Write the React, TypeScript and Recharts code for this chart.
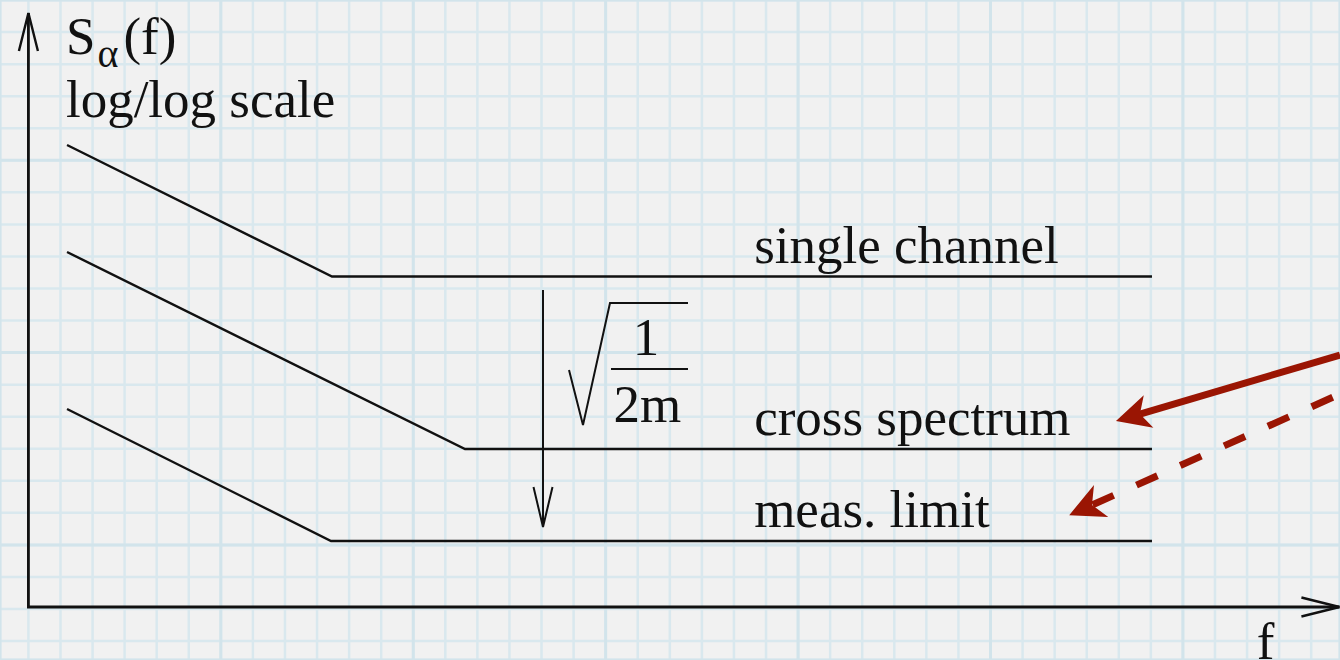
import React from 'react';
import { ComposedChart, Line, Scatter, XAxis, YAxis, CartesianGrid } from 'recharts';

// Coordinates are in "grid cells" of the squared paper: f runs right, S runs up.
const X_DOMAIN: [number, number] = [-0.886, 40.898];
const Y_DOMAIN: [number, number] = [-1.591, 19.002];

// Paper grid: fine cells every unit, heavier rule every sixth cell
const MINOR_F = [0, 1, 2, 3, 4, 5, 6, 7, 8, 9, 10, 11, 12, 13, 14, 15, 16, 17, 18, 19, 20, 21, 22, 23, 24, 25, 26, 27, 28, 29, 30, 31, 32, 33, 34, 35, 36, 37, 38, 39, 40];
const MINOR_S = [-1, 0, 1, 2, 3, 4, 5, 6, 7, 8, 9, 10, 11, 12, 13, 14, 15, 16, 17, 18, 19];
const MAJOR_F = [6, 12, 18, 24, 30, 36];
const MAJOR_S = [2, 8, 14];

// Spectra on log/log scale: 1/f-like slope then a white floor
const singleChannel = [
  { f: 1.204, S: 14.477 },
  { f: 9.467, S: 10.374 },
  { f: 35.035, S: 10.374 },
];
const crossSpectrum = [
  { f: 1.204, S: 11.139 },
  { f: 13.614, S: 4.992 },
  { f: 35.035, S: 4.992 },
];
const measLimit = [
  { f: 1.204, S: 6.24 },
  { f: 9.436, S: 2.122 },
  { f: 35.035, S: 2.122 },
];

// Axes of the sketch (arrow at both free ends)
const axes = [
  { f: 0, S: 18.596, head: 'start' },
  { f: 0, S: 0.062 },
  { f: 40.88, S: 0.062, head: 'end' },
];

// Averaging gain arrow and its sqrt(1/2m) factor
const gainArrow = [
  { f: 16.046, S: 9.953 },
  { f: 16.046, S: 2.558, head: 'end' },
];
const radical = [
  { f: 16.857, S: 7.457 },
  { f: 17.293, S: 5.741 },
  { f: 18.135, S: 9.548 },
  { f: 20.567, S: 9.548 },
];
const fractionBar = [
  { f: 18.166, S: 7.488 },
  { f: 20.567, S: 7.488 },
];

// Red pointers coming in from the right
const pointerSolid = [
  { f: 40.898, S: 7.925 },
  { f: 34.66, S: 6.084, head: 'end' },
];
const pointerDashed = [
  { f: 40.898, S: 6.708 },
  { f: 33.165, S: 3.245, head: 'end' },
];

const labels = [
  { f: 1.17, S: 17.32, text: 'S', kind: 'title' },
  { f: 1.17, S: 15.35, text: 'log/log scale', kind: 'plain' },
  { f: 22.63, S: 10.8, text: 'single channel', kind: 'plain' },
  { f: 22.63, S: 5.43, text: 'cross spectrum', kind: 'plain' },
  { f: 22.63, S: 2.56, text: 'meas. limit', kind: 'plain' },
  { f: 19.26, S: 7.93, text: '1', kind: 'center' },
  { f: 19.3, S: 5.83, text: '2m', kind: 'center' },
  { f: 38.3, S: -1.55, text: 'f', kind: 'plain' },
];

const INK = '#111111';
const RED = '#9a1503';
const FONT = '"Liberation Serif", "Times New Roman", serif';
const TEXT_SIZE = 53;

type HeadStyle = {
  kind: 'open' | 'filled';
  length: number;
  half: number;
  notch?: number;
  color: string;
  width?: number;
};

const arrowHead = (style: HeadStyle) => (props: any) => {
  const { cx, cy, index, points, payload } = props;
  const key = `head-${index}`;
  if (!payload || !payload.head || !points || cx == null || cy == null) return <g key={key} />;
  const other = payload.head === 'start' ? points[index + 1] : points[index - 1];
  if (!other) return <g key={key} />;
  const dx = cx - other.x;
  const dy = cy - other.y;
  const len = Math.hypot(dx, dy) || 1;
  const ux = dx / len;
  const uy = dy / len;
  const nx = -uy;
  const ny = ux;
  if (style.kind === 'open') {
    const bx = cx - ux * style.length;
    const by = cy - uy * style.length;
    const d = `M${bx + nx * style.half},${by + ny * style.half} L${cx},${cy} L${bx - nx * style.half},${by - ny * style.half}`;
    return (
      <path key={key} d={d} fill="none" stroke={style.color} strokeWidth={style.width ?? 2}
        strokeLinejoin="miter" strokeDasharray="none" />
    );
  }
  const notch = style.notch ?? 0;
  const tx = cx + ux * notch;
  const ty = cy + uy * notch;
  const bx = tx - ux * style.length;
  const by = ty - uy * style.length;
  const d = `M${tx},${ty} L${bx + nx * style.half},${by + ny * style.half} L${cx},${cy} L${bx - nx * style.half},${by - ny * style.half} Z`;
  return <path key={key} d={d} fill={style.color} stroke="none" />;
};

const renderLabel = (props: any) => {
  const { cx, cy, payload } = props;
  if (cx == null || cy == null) return <g />;
  if (payload.kind === 'title') {
    return (
      <text x={cx} y={cy} fontFamily={FONT} fontSize={TEXT_SIZE} fill={INK}>
        S
        <tspan dx={2} dy={13} fontSize={40}>α</tspan>
        <tspan dx={5} dy={-13} fontSize={TEXT_SIZE}>(f)</tspan>
      </text>
    );
  }
  return (
    <text x={cx} y={cy} fontFamily={FONT} fontSize={TEXT_SIZE} fill={INK}
      textAnchor={payload.kind === 'center' ? 'middle' : 'start'}>
      {payload.text}
    </text>
  );
};

const noDot = false;

export default function App() {
  return (
    <div style={{ position: 'fixed', left: 0, top: 0, width: 1340, height: 660, background: '#f1f1f1', overflow: 'hidden' }}>
      <ComposedChart width={1340} height={660} margin={{ top: 0, right: 0, bottom: 0, left: 0 }}>
        <XAxis type="number" dataKey="f" domain={X_DOMAIN} ticks={MINOR_F} allowDataOverflow hide />
        <YAxis type="number" dataKey="S" domain={Y_DOMAIN} ticks={MINOR_S} allowDataOverflow hide />
        <XAxis xAxisId="major" type="number" dataKey="f" domain={X_DOMAIN} ticks={MAJOR_F} allowDataOverflow hide />
        <YAxis yAxisId="major" type="number" dataKey="S" domain={Y_DOMAIN} ticks={MAJOR_S} allowDataOverflow hide />

        <CartesianGrid stroke="#d9e8ee" strokeWidth={2.5} />
        <CartesianGrid xAxisId="major" yAxisId="major" stroke="#d2e4eb" strokeWidth={3} />

        <Line data={axes} dataKey="S" stroke={INK} strokeWidth={2.8} strokeLinejoin="miter"
          dot={arrowHead({ kind: 'open', length: 38, half: 9.5, color: INK, width: 2.4 })}
          activeDot={false} isAnimationActive={false} />

        <Line data={singleChannel} dataKey="S" stroke={INK} strokeWidth={2.4} dot={noDot} activeDot={false} isAnimationActive={false} />
        <Line data={crossSpectrum} dataKey="S" stroke={INK} strokeWidth={2.4} dot={noDot} activeDot={false} isAnimationActive={false} />
        <Line data={measLimit} dataKey="S" stroke={INK} strokeWidth={2.4} dot={noDot} activeDot={false} isAnimationActive={false} />

        <Line data={gainArrow} dataKey="S" stroke={INK} strokeWidth={2}
          dot={arrowHead({ kind: 'open', length: 40, half: 9.5, color: INK, width: 2 })}
          activeDot={false} isAnimationActive={false} />
        <Line data={radical} dataKey="S" stroke={INK} strokeWidth={2} strokeLinejoin="miter" dot={noDot} activeDot={false} isAnimationActive={false} />
        <Line data={fractionBar} dataKey="S" stroke={INK} strokeWidth={2} dot={noDot} activeDot={false} isAnimationActive={false} />

        <Scatter data={labels} dataKey="S" shape={renderLabel} isAnimationActive={false} />

        <Line data={pointerSolid} dataKey="S" stroke={RED} strokeWidth={7}
          dot={arrowHead({ kind: 'filled', length: 34, half: 17, notch: 25, color: RED })}
          activeDot={false} isAnimationActive={false} />
        <Line data={pointerDashed} dataKey="S" stroke={RED} strokeWidth={7}
          strokeDasharray="23 25" strokeDashoffset={40}
          dot={arrowHead({ kind: 'filled', length: 35, half: 17.5, notch: 25, color: RED })}
          activeDot={false} isAnimationActive={false} />
      </ComposedChart>
    </div>
  );
}
